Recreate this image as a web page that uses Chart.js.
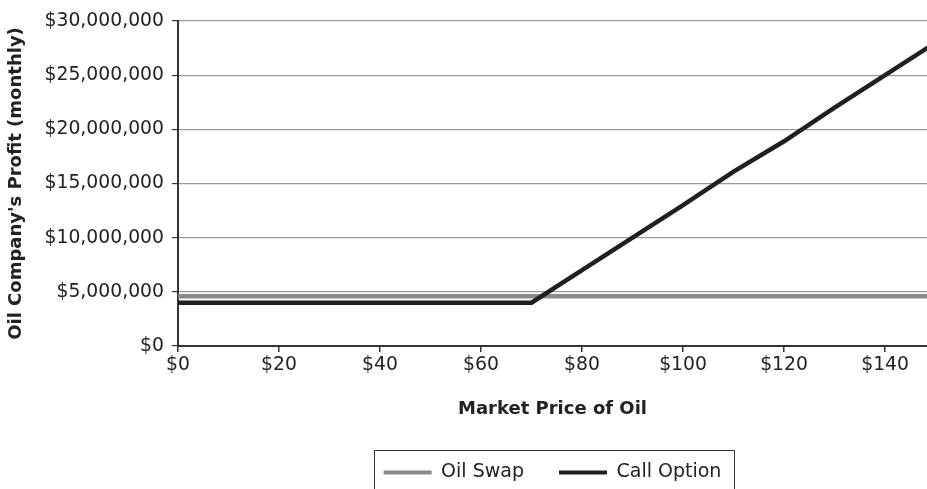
<!DOCTYPE html>
<html>
<head>
<meta charset="utf-8">
<script src="https://cdn.jsdelivr.net/npm/chart.js@4.4.1/dist/chart.umd.min.js"></script>
<style>
  html, body { margin: 0; padding: 0; background: #fff; overflow: hidden; }
  #wrap { width: 927px; height: 489px; overflow: hidden; }
</style>
</head>
<body>
<div id="wrap"><canvas id="profitChart" width="927" height="492"></canvas></div>
<script>
// market price of oil ($/bbl)
const prices = [0, 10, 20, 30, 40, 50, 60, 70, 80, 90, 100, 110, 120, 130, 140, 150];
// monthly profit, $
const oilSwap = [4600000, 4600000, 4600000, 4600000, 4600000, 4600000, 4600000, 4600000,
                 4600000, 4600000, 4600000, 4600000, 4600000, 4600000, 4600000, 4600000];
const callOption = [4000000, 4000000, 4000000, 4000000, 4000000, 4000000, 4000000, 4000000,
                    7000000, 10000000, 13000000, 16100000, 18900000, 22000000, 25000000, 28000000];
const yTicks = [0, 5000000, 10000000, 15000000, 20000000, 25000000, 30000000];
const xTicks = [0, 20, 40, 60, 80, 100, 120, 140];

const txt = "#222";
const fontName = "'DejaVu Sans', sans-serif";

const toPoints = arr => prices.map((p, i) => ({ x: p, y: arr[i] }));

// box round the legend (bottom edge is off the picture)
const legendFrame = {
  id: "legendFrame",
  afterDraw(chart) {
    const hb = chart.legend.legendHitBoxes;
    if (!hb || !hb.length) return;
    const ctx = chart.ctx;
    const last = hb[hb.length - 1];
    const l = Math.round(hb[0].left - 10) + 0.5;
    const r = Math.round(last.left + last.width + 13) + 0.5;
    const t = Math.round(hb[0].top - 13) + 0.5;
    ctx.save();
    ctx.strokeStyle = "#333";
    ctx.lineWidth = 1;
    ctx.beginPath();
    ctx.moveTo(l, chart.height + 5);
    ctx.lineTo(l, t);
    ctx.lineTo(r, t);
    ctx.lineTo(r, chart.height + 5);
    ctx.stroke();
    ctx.restore();
  }
};

new Chart(document.getElementById("profitChart"), {
  type: "line",
  data: {
    datasets: [
      {
        label: "Oil Swap",
        data: toPoints(oilSwap),
        borderColor: "#8a8a8c",
        backgroundColor: "#8a8a8c",
        borderWidth: 4.5,
        pointRadius: 0,
        tension: 0,
        order: 1
      },
      {
        label: "Call Option",
        data: toPoints(callOption),
        borderColor: "#231f20",
        backgroundColor: "#231f20",
        borderWidth: 4.5,
        pointRadius: 0,
        tension: 0,
        order: 0
      }
    ]
  },
  options: {
    responsive: false,
    animation: false,
    layout: { padding: { top: 21, right: 0, left: 0, bottom: 0 } },
    plugins: {
      tooltip: { enabled: false },
      legend: {
        position: "bottom",
        fullSize: false,
        labels: {
          boxWidth: 48,
          boxHeight: 4,
          padding: 35,
          color: txt,
          font: { family: fontName, size: 19 },
          sort: (a, b) => a.datasetIndex - b.datasetIndex,
          generateLabels: chart =>
            Chart.defaults.plugins.legend.labels.generateLabels(chart).map(item => ({
              ...item, lineWidth: 0, fillStyle: item.strokeStyle
            }))
        }
      }
    },
    scales: {
      x: {
        type: "linear",
        min: 0,
        max: 148.3,
        afterBuildTicks: scale => { scale.ticks = xTicks.map(v => ({ value: v })); },
        afterFit: scale => { scale.height = 82; },
        ticks: {
          padding: 2,
          color: txt,
          font: { family: fontName, size: 18.8 },
          maxRotation: 0,
          callback: v => "$" + v
        },
        grid: { drawOnChartArea: false, drawTicks: true, tickLength: 6, color: "#333", lineWidth: 1.5 },
        border: { color: "#333", width: 2 },
        title: {
          display: true,
          text: "Market Price of Oil",
          color: txt,
          font: { family: fontName, size: 18, weight: "bold" },
          padding: { top: 0, bottom: 8 }
        }
      },
      y: {
        min: 0,
        max: 30000000,
        afterBuildTicks: scale => { scale.ticks = yTicks.map(v => ({ value: v })); },
        afterFit: scale => { scale.width = 178; },
        ticks: {
          padding: 8,
          color: txt,
          font: { family: fontName, size: 18.8 },
          callback: v => "$" + v.toLocaleString("en-US")
        },
        grid: { color: "#9a9a9a", lineWidth: 1.2, tickLength: 6, tickColor: "#333" },
        border: { color: "#333", width: 2 },
        title: {
          display: true,
          text: "Oil Company's Profit (monthly)",
          color: txt,
          font: { family: fontName, size: 18, weight: "bold" },
          padding: { top: 6, bottom: 0 }
        }
      }
    }
  },
  plugins: [legendFrame]
});
</script>
</body>
</html>
